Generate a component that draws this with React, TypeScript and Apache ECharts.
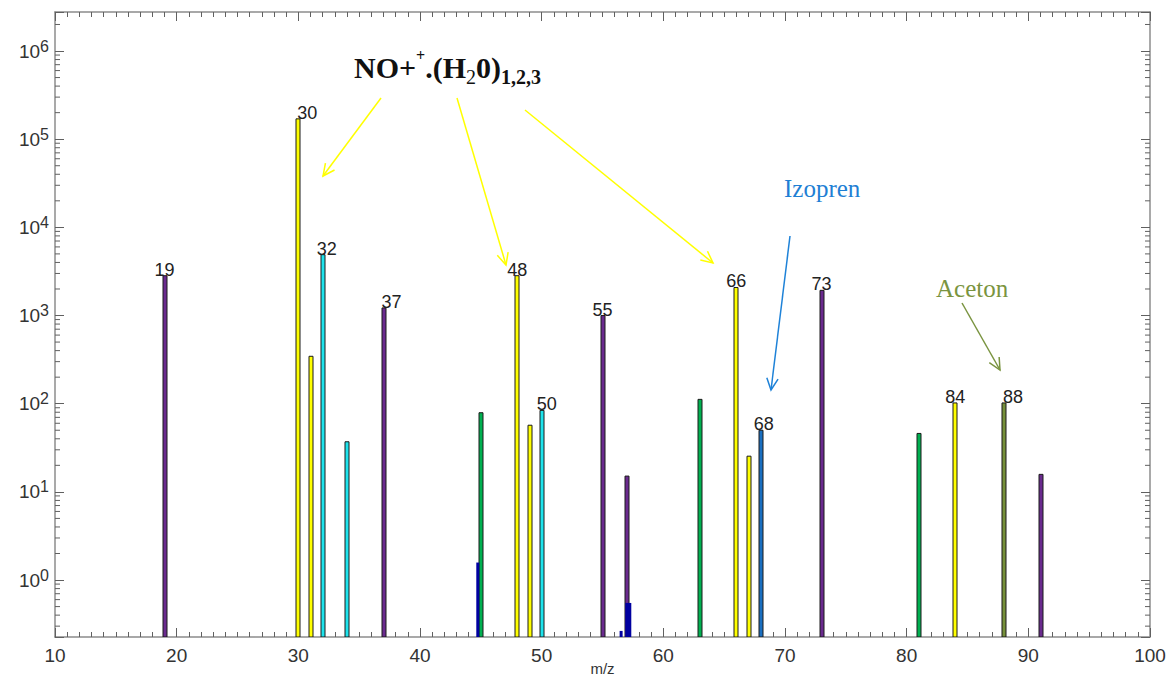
import React, { useEffect, useRef } from "react";
import * as echarts from "echarts";

// ---- data ----
const mz = [19, 30, 31, 32, 34, 37, 45, 48, 49, 50, 55, 57, 63, 66, 67, 68, 73, 81, 84, 88, 91];
const intensity = [2830, 170000, 345, 4900, 37, 1220, 79, 2830, 57, 84, 1000, 15.1, 112, 2080, 25.4, 50, 1930, 46, 102, 102, 15.8];
const ionGroup = ["p", "y", "y", "c", "c", "p", "g", "y", "y", "c", "p", "p", "g", "y", "y", "b", "p", "g", "y", "o", "p"];
const labelledPeaks = [19, 30, 32, 37, 48, 50, 55, 66, 68, 73, 84, 88];
const traceMz = [44.75, 56.53, 57.12];
const traceIntensity = [1.58, 0.265, 0.55];
const xTicks = [10, 20, 30, 40, 50, 60, 70, 80, 90, 100];
const yDecades = [0, 1, 2, 3, 4, 5, 6];
const minorMultipliers = [2, 3, 4, 5, 6, 7, 8, 9];

// ---- styles ----
const groupColor: Record<string, string> = {
  p: "#6a2a8e",
  y: "#ffff00",
  c: "#1ee3ec",
  g: "#00b050",
  b: "#1a6fc0",
  o: "#76903a",
};
const traceWidth = [3, 3, 6];
const labelShift: Record<number, number> = { 30: 9, 32: 4, 37: 8, 50: 5, 68: 3, 88: 9 };
const Y_MIN = 0.226;
const Y_MAX = 2.77e6;
const X_MIN = xTicks[0];
const X_MAX = xTicks[xTicks.length - 1];

// log-spaced minor tick values (axis decoration)
const minorTickValues: number[] = [];
[-1, ...yDecades].forEach((d) => {
  minorMultipliers.forEach((k) => {
    const v = k * Math.pow(10, d);
    if (v > Y_MIN && v < Y_MAX) minorTickValues.push(v);
  });
});

function arrow(x1: number, y1: number, x2: number, y2: number, color: string) {
  const ang = Math.atan2(y2 - y1, x2 - x1);
  const len = 13;
  const spread = 0.45;
  const p1 = [x2 - len * Math.cos(ang - spread), y2 - len * Math.sin(ang - spread)];
  const p2 = [x2 - len * Math.cos(ang + spread), y2 - len * Math.sin(ang + spread)];
  return [
    { type: "line", silent: true, shape: { x1, y1, x2, y2 }, style: { stroke: color, lineWidth: 1.5 } },
    { type: "polyline", silent: true, shape: { points: [p1, [x2, y2], p2] }, style: { stroke: color, lineWidth: 1.5, fill: null } },
  ];
}

export default function App() {
  const ref = useRef<HTMLDivElement>(null);
  useEffect(() => {
    if (!ref.current) return;
    const chart = echarts.init(ref.current, undefined, { renderer: "svg" });
    const axisLineStyle = { color: "#8c8c8c", width: 1.5 };
    const tickStyle = { color: "#606060", width: 1 };
    const xCommon = {
      type: "value",
      min: X_MIN,
      max: X_MAX,
      interval: 10,
      splitLine: { show: false },
      axisLine: { show: true, onZero: false, lineStyle: axisLineStyle },
      axisTick: { show: true, inside: true, length: 9, lineStyle: tickStyle },
      minorTick: { show: true, splitNumber: 10, length: 5, lineStyle: tickStyle },
    };
    const yCommon = {
      type: "log",
      min: Y_MIN,
      max: Y_MAX,
      splitLine: { show: false },
      axisLine: { show: true, lineStyle: axisLineStyle },
      axisTick: { show: true, inside: true, length: 9, lineStyle: tickStyle },
      minorTick: { show: false },
    };
    const seriesData = mz.map((x, i) => ({
      value: [x, intensity[i]],
      itemStyle: { color: groupColor[ionGroup[i]] },
    }));
    const traceData = traceMz.map((x, i) => [x, traceIntensity[i], traceWidth[i]]);

    chart.setOption({
      animation: false,
      backgroundColor: "#ffffff",
      grid: { left: 55, right: 17, top: 12, bottom: 43, containLabel: false, outerBoundsMode: "none" },
      xAxis: [
        {
          ...xCommon,
          position: "bottom",
          name: "m/z",
          nameLocation: "middle",
          nameGap: 24,
          nameMoveOverlap: false,
          nameTextStyle: { fontSize: 15, color: "#333", fontFamily: "Liberation Sans" },
          axisLabel: {
            show: true,
            margin: 9,
            fontSize: 19,
            color: "#333",
            fontFamily: "Liberation Sans",
            formatter: (v: number) => (xTicks.indexOf(v) >= 0 ? String(v) : ""),
          },
        },
        { ...xCommon, position: "top", axisLabel: { show: false } },
      ],
      yAxis: [
        {
          ...yCommon,
          position: "left",
          axisLabel: {
            show: true,
            margin: 6,
            fontFamily: "Liberation Sans",
            color: "#333",
            formatter: (v: number) => {
              const l = Math.log10(v);
              const e = Math.round(l);
              if (Math.abs(l - e) > 0.01 || yDecades.indexOf(e) < 0) return "";
              return `{b|10}{s|${e}}`;
            },
            rich: {
              b: { fontSize: 19, lineHeight: 26, color: "#333", fontFamily: "Liberation Sans" },
              s: { fontSize: 16, lineHeight: 16, verticalAlign: "top", color: "#333", fontFamily: "Liberation Sans" },
            },
          },
        },
        { ...yCommon, position: "right", axisLabel: { show: false } },
      ],
      series: [
        {
          type: "custom",
          name: "minorTicks",
          xAxisIndex: 0,
          yAxisIndex: 0,
          silent: true,
          clip: false,
          encode: { y: 0 },
          data: minorTickValues.map((v) => [v]),
          renderItem: (params: any, api: any) => {
            const v = api.value(0);
            const l = api.coord([X_MIN, v]);
            const r = api.coord([X_MAX, v]);
            const st = { stroke: "#606060", lineWidth: 1 };
            return {
              type: "group",
              children: [
                { type: "line", shape: { x1: l[0], y1: l[1], x2: l[0] + 5, y2: l[1] }, style: st },
                { type: "line", shape: { x1: r[0], y1: r[1], x2: r[0] - 5, y2: r[1] }, style: st },
              ],
            };
          },
        },
        {
          type: "custom",
          name: "peaks",
          xAxisIndex: 0,
          yAxisIndex: 0,
          clip: true,
          encode: { x: 0, y: 1 },
          data: seriesData,
          renderItem: (params: any, api: any) => {
            const x = api.value(0);
            const v = api.value(1);
            const top = api.coord([x, v]);
            const base = api.coord([x, Y_MIN]);
            const w = 4;
            const children: any[] = [
              {
                type: "rect",
                shape: { x: Math.round(top[0]) - w / 2, y: top[1], width: w, height: base[1] - top[1] },
                style: { fill: api.visual("color"), stroke: "#1a1a1a", lineWidth: 1 },
              },
            ];
            if (labelledPeaks.indexOf(x) >= 0) {
              children.push({
                type: "text",
                x: top[0] + (labelShift[x] || 0),
                y: top[1] + 3,
                style: {
                  text: String(x),
                  fontSize: 18,
                  fontFamily: "Liberation Sans",
                  fill: "#222",
                  align: "center",
                  verticalAlign: "bottom",
                },
              });
            }
            return { type: "group", children };
          },
        },
        {
          type: "custom",
          name: "trace",
          xAxisIndex: 0,
          yAxisIndex: 0,
          clip: true,
          encode: { x: 0, y: 1 },
          data: traceData,
          itemStyle: { color: "#0000a0" },
          renderItem: (params: any, api: any) => {
            const x = api.value(0);
            const v = api.value(1);
            const w = api.value(2);
            const top = api.coord([x, v]);
            const base = api.coord([x, Y_MIN]);
            return {
              type: "rect",
              shape: { x: top[0] - w / 2, y: top[1], width: w, height: base[1] - top[1] },
              style: { fill: "#0000a0" },
            };
          },
        },
      ],
      graphic: [
        {
          type: "text",
          left: 354,
          top: 47,
          silent: true,
          style: {
            text: "{a|NO+}{sp|+}{a|.(H}{sb|2}{a|0)}{sbb|1,2,3}",
            rich: {
              a: { fontSize: 30, fontWeight: "bold", fontFamily: "Liberation Serif", lineHeight: 40, fill: "#111" },
              sp: { fontSize: 16, fontWeight: "bold", fontFamily: "Liberation Serif", lineHeight: 22, verticalAlign: "top", fill: "#111" },
              sb: { fontSize: 20, fontFamily: "Liberation Serif", lineHeight: 20, verticalAlign: "bottom", fill: "#111" },
              sbb: { fontSize: 20, fontWeight: "bold", fontFamily: "Liberation Serif", lineHeight: 20, verticalAlign: "bottom", fill: "#111" },
            },
          },
        },
        {
          type: "text",
          left: 784,
          top: 176,
          silent: true,
          style: { text: "Izopren", fontSize: 25, fontFamily: "Liberation Serif", fill: "#1f7fd4" },
        },
        {
          type: "text",
          left: 936,
          top: 276,
          silent: true,
          style: { text: "Aceton", fontSize: 25, fontFamily: "Liberation Serif", fill: "#7a9440" },
        },
        ...arrow(381, 98, 323, 176, "#ffff00"),
        ...arrow(457, 98, 506, 265, "#ffff00"),
        ...arrow(525, 110, 713, 263, "#ffff00"),
        ...arrow(790, 236, 771, 390, "#1e82d8"),
        ...arrow(962, 303, 1000, 370, "#7a9440"),
      ],
    });
    return () => chart.dispose();
  }, []);
  return (
    <div
      ref={ref}
      style={{ position: "absolute", left: 0, top: 0, width: 1167, height: 680 }}
    />
  );
}
